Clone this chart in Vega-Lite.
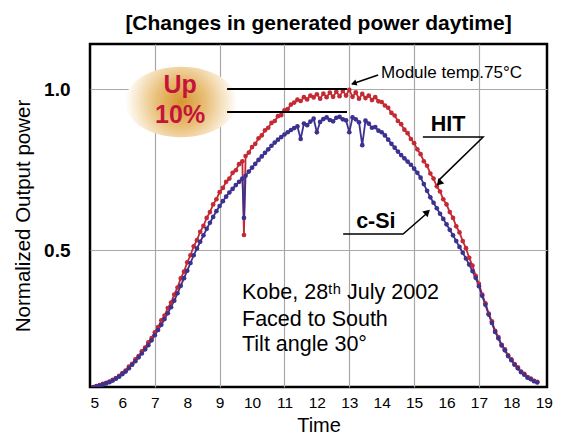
{
"$schema": "https://vega.github.io/schema/vega-lite/v6.json",
"width": 457, "height": 343,
"autosize": {"type": "none"},
"padding": {"left": 90, "top": 44, "right": 30, "bottom": 48},
"background": "white",
"config": {"view": {"stroke": "black", "strokeWidth": 2.5}, "font": "Liberation Sans"},
"title": {"text": "[Changes in generated power daytime]", "fontSize": 21, "fontWeight": "bold", "anchor": "middle", "offset": 10, "color": "black", "font": "Liberation Sans"},
"datasets": {
"curves": [
{"t":5.1,"HIT":0.075,"cSi":0.074},{"t":5.2,"HIT":0.078,"cSi":0.077},{"t":5.3,"HIT":0.081,"cSi":0.079},{"t":5.4,"HIT":0.085,"cSi":0.083},{"t":5.5,"HIT":0.088,"cSi":0.086},{"t":5.6,"HIT":0.092,"cSi":0.090},{"t":5.7,"HIT":0.097,"cSi":0.095},{"t":5.8,"HIT":0.103,"cSi":0.101},{"t":5.9,"HIT":0.110,"cSi":0.107},
{"t":6.0,"HIT":0.118,"cSi":0.115},{"t":6.1,"HIT":0.126,"cSi":0.123},{"t":6.2,"HIT":0.138,"cSi":0.133},{"t":6.3,"HIT":0.147,"cSi":0.144},{"t":6.4,"HIT":0.161,"cSi":0.155},{"t":6.5,"HIT":0.171,"cSi":0.167},{"t":6.6,"HIT":0.186,"cSi":0.179},{"t":6.7,"HIT":0.197,"cSi":0.192},{"t":6.8,"HIT":0.214,"cSi":0.205},{"t":6.9,"HIT":0.227,"cSi":0.220},
{"t":7.0,"HIT":0.245,"cSi":0.236},{"t":7.1,"HIT":0.261,"cSi":0.252},{"t":7.2,"HIT":0.282,"cSi":0.268},{"t":7.3,"HIT":0.297,"cSi":0.286},{"t":7.4,"HIT":0.320,"cSi":0.304},{"t":7.5,"HIT":0.337,"cSi":0.323},{"t":7.6,"HIT":0.362,"cSi":0.343},{"t":7.7,"HIT":0.384,"cSi":0.366},{"t":7.8,"HIT":0.412,"cSi":0.389},{"t":7.9,"HIT":0.433,"cSi":0.413},
{"t":8.0,"HIT":0.462,"cSi":0.436},{"t":8.1,"HIT":0.484,"cSi":0.460},{"t":8.2,"HIT":0.512,"cSi":0.484},{"t":8.3,"HIT":0.531,"cSi":0.505},{"t":8.4,"HIT":0.557,"cSi":0.526},{"t":8.5,"HIT":0.575,"cSi":0.546},{"t":8.6,"HIT":0.600,"cSi":0.566},{"t":8.7,"HIT":0.618,"cSi":0.585},{"t":8.8,"HIT":0.642,"cSi":0.603},{"t":8.9,"HIT":0.658,"cSi":0.621},
{"t":9.0,"HIT":0.680,"cSi":0.637},{"t":9.1,"HIT":0.693,"cSi":0.652},{"t":9.2,"HIT":0.712,"cSi":0.666},{"t":9.3,"HIT":0.722,"cSi":0.679},{"t":9.4,"HIT":0.740,"cSi":0.690},{"t":9.5,"HIT":0.748,"cSi":0.702},{"t":9.6,"HIT":0.767,"cSi":0.712},{"t":9.7,"HIT":0.776,"cSi":0.722},{"t":9.75,"HIT":0.547,"cSi":0.600},{"t":9.8,"HIT":0.792,"cSi":0.731},{"t":9.9,"HIT":0.803,"cSi":0.744},
{"t":10.0,"HIT":0.820,"cSi":0.756},{"t":10.1,"HIT":0.830,"cSi":0.768},{"t":10.2,"HIT":0.847,"cSi":0.780},{"t":10.3,"HIT":0.856,"cSi":0.791},{"t":10.4,"HIT":0.872,"cSi":0.802},{"t":10.5,"HIT":0.880,"cSi":0.813},{"t":10.6,"HIT":0.895,"cSi":0.824},{"t":10.7,"HIT":0.901,"cSi":0.834},{"t":10.8,"HIT":0.916,"cSi":0.843},{"t":10.9,"HIT":0.919,"cSi":0.851},
{"t":11.0,"HIT":0.934,"cSi":0.859},{"t":11.1,"HIT":0.938,"cSi":0.866},{"t":11.2,"HIT":0.952,"cSi":0.873},{"t":11.3,"HIT":0.958,"cSi":0.879},{"t":11.4,"HIT":0.967,"cSi":0.884},{"t":11.5,"HIT":0.963,"cSi":0.845},{"t":11.6,"HIT":0.975,"cSi":0.893},{"t":11.7,"HIT":0.968,"cSi":0.888},{"t":11.8,"HIT":0.980,"cSi":0.899},{"t":11.9,"HIT":0.974,"cSi":0.908},
{"t":12.0,"HIT":0.984,"cSi":0.866},{"t":12.1,"HIT":0.970,"cSi":0.898},{"t":12.2,"HIT":0.986,"cSi":0.907},{"t":12.3,"HIT":0.975,"cSi":0.912},{"t":12.4,"HIT":0.989,"cSi":0.904},{"t":12.5,"HIT":0.976,"cSi":0.900},{"t":12.6,"HIT":0.992,"cSi":0.911},{"t":12.7,"HIT":0.978,"cSi":0.914},{"t":12.8,"HIT":0.994,"cSi":0.906},{"t":12.9,"HIT":0.980,"cSi":0.903},
{"t":13.0,"HIT":0.998,"cSi":0.866},{"t":13.1,"HIT":0.976,"cSi":0.912},{"t":13.2,"HIT":0.990,"cSi":0.906},{"t":13.3,"HIT":0.970,"cSi":0.897},{"t":13.4,"HIT":0.985,"cSi":0.826},{"t":13.5,"HIT":0.972,"cSi":0.902},{"t":13.6,"HIT":0.980,"cSi":0.893},{"t":13.7,"HIT":0.966,"cSi":0.880},{"t":13.8,"HIT":0.975,"cSi":0.882},{"t":13.9,"HIT":0.962,"cSi":0.871},
{"t":14.0,"HIT":0.960,"cSi":0.866},{"t":14.1,"HIT":0.949,"cSi":0.856},{"t":14.2,"HIT":0.942,"cSi":0.843},{"t":14.3,"HIT":0.926,"cSi":0.830},{"t":14.4,"HIT":0.918,"cSi":0.818},{"t":14.5,"HIT":0.901,"cSi":0.806},{"t":14.6,"HIT":0.891,"cSi":0.795},{"t":14.7,"HIT":0.874,"cSi":0.785},{"t":14.8,"HIT":0.863,"cSi":0.775},{"t":14.9,"HIT":0.845,"cSi":0.765},
{"t":15.0,"HIT":0.832,"cSi":0.753},{"t":15.1,"HIT":0.813,"cSi":0.740},{"t":15.2,"HIT":0.798,"cSi":0.725},{"t":15.3,"HIT":0.776,"cSi":0.705},{"t":15.4,"HIT":0.762,"cSi":0.684},{"t":15.5,"HIT":0.738,"cSi":0.664},{"t":15.6,"HIT":0.722,"cSi":0.647},{"t":15.7,"HIT":0.698,"cSi":0.630},{"t":15.8,"HIT":0.682,"cSi":0.613},{"t":15.9,"HIT":0.658,"cSi":0.597},
{"t":16.0,"HIT":0.642,"cSi":0.580},{"t":16.1,"HIT":0.618,"cSi":0.563},{"t":16.2,"HIT":0.600,"cSi":0.546},{"t":16.3,"HIT":0.574,"cSi":0.528},{"t":16.4,"HIT":0.555,"cSi":0.510},{"t":16.5,"HIT":0.528,"cSi":0.492},{"t":16.6,"HIT":0.506,"cSi":0.474},{"t":16.7,"HIT":0.476,"cSi":0.455},{"t":16.8,"HIT":0.452,"cSi":0.435},{"t":16.9,"HIT":0.420,"cSi":0.414},
{"t":17.0,"HIT":0.395,"cSi":0.388},{"t":17.1,"HIT":0.362,"cSi":0.358},{"t":17.2,"HIT":0.335,"cSi":0.330},{"t":17.3,"HIT":0.303,"cSi":0.300},{"t":17.4,"HIT":0.279,"cSi":0.274},{"t":17.5,"HIT":0.249,"cSi":0.246},{"t":17.6,"HIT":0.230,"cSi":0.226},{"t":17.7,"HIT":0.206,"cSi":0.204},{"t":17.8,"HIT":0.192,"cSi":0.189},{"t":17.9,"HIT":0.173,"cSi":0.171},
{"t":18.0,"HIT":0.161,"cSi":0.158},{"t":18.1,"HIT":0.146,"cSi":0.144},{"t":18.2,"HIT":0.136,"cSi":0.133},{"t":18.3,"HIT":0.123,"cSi":0.121},{"t":18.4,"HIT":0.116,"cSi":0.113},{"t":18.5,"HIT":0.106,"cSi":0.104},{"t":18.6,"HIT":0.101,"cSi":0.099},{"t":18.7,"HIT":0.094,"cSi":0.093},{"t":18.8,"HIT":0.091,"cSi":0.089}
],
"arrows": [
{"g":"mod","o":1,"t":13.89,"v":1.044},{"g":"mod","o":2,"t":13.08,"v":1.016},
{"g":"hit","o":1,"t":15.27,"v":0.851},{"g":"hit","o":2,"t":17.13,"v":0.851},{"g":"hit","o":3,"t":15.74,"v":0.715},
{"g":"csi","o":1,"t":12.81,"v":0.55},{"g":"csi","o":2,"t":14.66,"v":0.55},{"g":"csi","o":3,"t":15.37,"v":0.612}
]
},
"encoding": {
"x": {"field": "t", "type": "quantitative", "scale": {"domain": [5, 19.1], "nice": false, "zero": false},
"axis": {"values": [5,6,7,8,9,10,11,12,13,14,15,16,17,18,19], "domain": false, "ticks": false, "grid": true, "gridColor": "#a8a8a8", "gridWidth": 1.2,
"gridOpacity": {"condition": {"test": "datum.value % 2 == 1 && datum.value > 5 && datum.value < 19", "value": 1}, "value": 0},
"labelFontSize": 15.5, "labelColor": "black", "labelPadding": 8, "labelFont": "Liberation Sans",
"title": "Time", "titleFontSize": 20, "titleFontWeight": "normal", "titleColor": "black", "titlePadding": 5, "titleFont": "Liberation Sans"}},
"y": {"field": "v", "type": "quantitative", "scale": {"domain": [0.075, 1.14], "nice": false, "zero": false},
"axis": {"values": [0.5, 1.0], "format": ".1f", "domain": false, "ticks": false, "grid": true, "gridColor": "#a8a8a8", "gridWidth": 1.2,
"labelFontSize": 19, "labelFontWeight": "bold", "labelColor": "black", "labelPadding": 20, "labelFont": "Liberation Sans",
"title": "Normalized Output power", "titleFontSize": 20.5, "titleFontWeight": "normal", "titleColor": "black", "titlePadding": 10, "titleFont": "Liberation Sans"}}
},
"layer": [
{"data": {"values": [{"t": 7.81, "v": 0.96}]},
"mark": {"type": "point", "shape": "M -1 0 A 1 0.63 0 1 0 1 0 A 1 0.63 0 1 0 -1 0 Z", "size": 12544, "filled": true, "opacity": 1, "strokeWidth": 0,
"fill": {"gradient": "radial", "x1": 0.5, "y1": 0.5, "r1": 0, "x2": 0.5, "y2": 0.5, "r2": 0.5,
"stops": [{"offset": 0, "color": "#d7962e"}, {"offset": 0.45, "color": "#e9c07a"}, {"offset": 0.8, "color": "#f8e9cf"}, {"offset": 1, "color": "#ffffff"}]}}},
{"data": {"name": "curves"},
"transform": [{"fold": ["HIT", "cSi"], "as": ["series", "v"]}],
"mark": {"type": "line", "strokeWidth": 1.8, "clip": true, "point": {"filled": true, "size": 22, "opacity": 1}},
"encoding": {"color": {"field": "series", "type": "nominal", "scale": {"domain": ["HIT", "cSi"], "range": ["#c42a33", "#3b318f"]}, "legend": null}}},
{"data": {"values": [{"t": 9.23, "t2": 12.93, "v": 1.0}, {"t": 9.23, "t2": 12.93, "v": 0.929}]},
"mark": {"type": "rule", "color": "black", "strokeWidth": 2},
"encoding": {"x2": {"field": "t2"}}},
{"data": {"values": [{"t": 7.78, "v": 1.013, "label": "Up"}, {"t": 7.78, "v": 0.92, "label": "10%"}]},
"mark": {"type": "text", "font": "Liberation Sans", "fontSize": 25, "fontWeight": "bold", "color": "#c5143b", "align": "center", "baseline": "middle"},
"encoding": {"text": {"field": "label"}}},
{"data": {"name": "arrows"},
"mark": {"type": "line", "color": "black", "strokeWidth": 1.5},
"encoding": {"detail": {"field": "g"}, "order": {"field": "o", "type": "quantitative"}}},
{"data": {"values": [{"t": 13.14, "v": 1.018}]},
"mark": {"type": "point", "shape": "triangle-right", "angle": 161, "size": 40, "filled": true, "color": "black", "opacity": 1}},
{"data": {"values": [{"t": 15.77, "v": 0.708}]},
"mark": {"type": "point", "shape": "triangle-right", "angle": 135, "size": 60, "filled": true, "color": "black", "opacity": 1}},
{"data": {"values": [{"t": 15.41, "v": 0.618}]},
"mark": {"type": "point", "shape": "triangle-right", "angle": 317, "size": 60, "filled": true, "color": "black", "opacity": 1}},
{"data": {"values": [{"t": 13.98, "v": 1.05, "label": "Module temp.75°C"}]},
"mark": {"type": "text", "font": "Liberation Sans", "fontSize": 17, "color": "black", "align": "left", "baseline": "middle"},
"encoding": {"text": {"field": "label"}}},
{"data": {"values": [{"t": 16.05, "v": 0.888, "label": "HIT"}, {"t": 13.82, "v": 0.587, "label": "c-Si"}]},
"mark": {"type": "text", "font": "Liberation Sans", "fontSize": 21.5, "fontWeight": "bold", "color": "black", "align": "center", "baseline": "middle"},
"encoding": {"text": {"field": "label"}}},
{"data": {"values": [{"t": 9.69, "v": 0.367, "label": "Kobe, 28ᵗʰ July 2002"}, {"t": 9.69, "v": 0.283, "label": "Faced to South"}, {"t": 9.69, "v": 0.205, "label": "Tilt angle 30°"}]},
"mark": {"type": "text", "font": "Liberation Sans", "fontSize": 21.5, "color": "black", "align": "left", "baseline": "middle"},
"encoding": {"text": {"field": "label"}}}
]
}
